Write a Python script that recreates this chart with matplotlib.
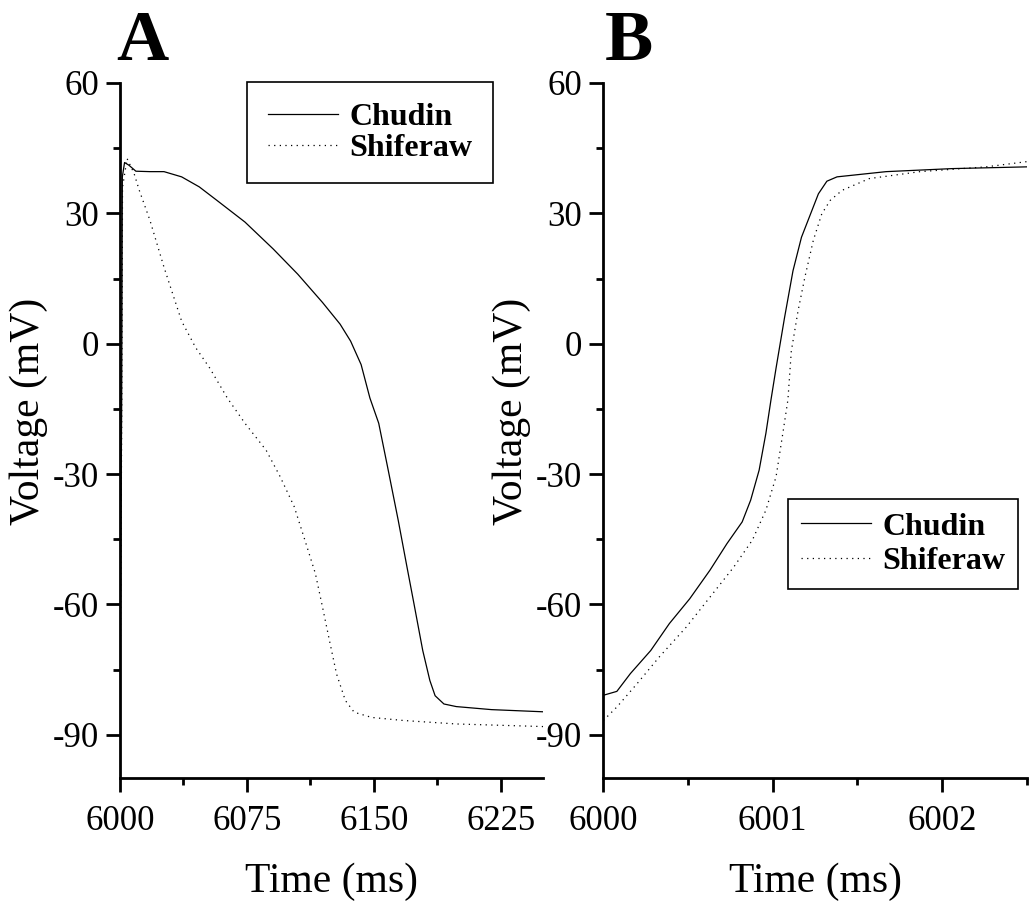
import numpy as np
import matplotlib.pyplot as plt

plt.rcParams['font.family'] = ['Liberation Serif', 'DejaVu Serif']
plt.rcParams['axes.unicode_minus'] = False

# Panel A: full action potential
t_chudin_a = [6000, 6001.0, 6001.4, 6002.7, 6005.2, 6009.4, 6017.7, 6026, 6036.4, 6046.8,
              6057.2, 6073.8, 6090.5, 6105, 6119.6, 6130, 6136.2, 6142.4, 6147.6, 6152.8,
              6158, 6164.3, 6169.5, 6173.6, 6178.8, 6183, 6186.1, 6191.3, 6198.6, 6219.4, 6250]
v_chudin_a = [-81, -13, 38.4, 41.7, 41.1, 39.7, 39.6, 39.6, 38.4, 36.1,
              33.0, 28.0, 21.8, 16.0, 9.5, 4.5, 0.6, -4.8, -12.5, -18.3,
              -28.3, -40.6, -51.4, -59.8, -70.6, -77.5, -81.0, -82.9, -83.5, -84.2, -84.7]

t_shif_a = [6000, 6001.1, 6001.5, 6004.2, 6008.3, 6011.4, 6017.7, 6026, 6036.4, 6044.7,
            6053, 6063.4, 6073.8, 6086.3, 6094.6, 6102.9, 6109.2, 6115.4, 6119.6, 6123.7,
            6127.9, 6133.1, 6138.3, 6148.7, 6167.4, 6198.6, 6250]
v_shif_a = [-86.7, -12.9, 36.0, 42.6, 39.2, 35.3, 28.4, 17.6, 5.2, -0.9,
            -5.6, -12.5, -18.3, -24.5, -30.6, -37.5, -45.2, -52.9, -60.6, -68.3,
            -76.0, -82.1, -84.8, -86.0, -86.7, -87.5, -88.1]

# Panel B: upstroke detail
t_chudin_b = [6000, 6000.08, 6000.16, 6000.28, 6000.39, 6000.51, 6000.63, 6000.73, 6000.82,
              6000.87, 6000.92, 6000.96, 6000.99, 6001.02, 6001.07, 6001.12, 6001.17,
              6001.27, 6001.32, 6001.38, 6001.67, 6002.06, 6002.5]
v_chudin_b = [-80.9, -80.0, -75.9, -70.6, -64.4, -58.7, -52.1, -46.0, -41.0,
              -36.0, -29.1, -20.6, -12.9, -5.6, 6.0, 16.8, 24.5,
              34.5, 37.4, 38.4, 39.6, 40.3, 40.7]

t_shif_b = [6000, 6000.08, 6000.2, 6000.33, 6000.49, 6000.63, 6000.77, 6000.88, 6000.96,
            6001.02, 6001.06, 6001.09, 6001.11, 6001.15, 6001.19, 6001.24, 6001.29,
            6001.34, 6001.41, 6001.57, 6001.87, 6002.26, 6002.5]
v_shif_b = [-86.7, -83.6, -78.2, -72.1, -65.2, -58.3, -51.4, -45.2, -38.3,
            -30.6, -20.6, -12.9, -1.7, 7.6, 15.3, 23.8, 29.9,
            33.0, 35.3, 38.0, 39.6, 40.7, 41.9]

fig = plt.figure(figsize=(10.29, 9.09), dpi=100)
ax_a = fig.add_axes([0.1166, 0.1438, 0.4114, 0.7649])
ax_b = fig.add_axes([0.5863, 0.1438, 0.4115, 0.7649])

dots = (0, (1, 3.5))


def style_axis(ax, xticks, xminor, xlim):
    for side in ['top', 'right']:
        ax.spines[side].set_visible(False)
    for side in ['left', 'bottom']:
        ax.spines[side].set_linewidth(2.0)
    ax.set_xlim(*xlim)
    ax.set_ylim(-100, 60)
    ax.set_xticks(xticks)
    ax.set_xticks(xminor, minor=True)
    ax.set_yticks([-90, -60, -30, 0, 30, 60])
    ax.set_yticks([-75, -45, -15, 15, 45], minor=True)
    ax.tick_params(which='major', direction='out', length=10, width=2.0, labelsize=25)
    ax.tick_params(axis='x', which='major', pad=9)
    ax.tick_params(axis='y', which='major', pad=5)
    ax.tick_params(which='minor', direction='out', length=5, width=2.0)
    ax.set_xlabel('Time (ms)', fontsize=30, labelpad=18)
    ax.set_ylabel('Voltage (mV)', fontsize=30)
    ax.yaxis.set_label_coords(-0.17, 0.528)


ax_a.plot(t_chudin_a, v_chudin_a, color='black', lw=0.9, label='Chudin')
ax_a.plot(t_shif_a, v_shif_a, color='black', lw=0.9, linestyle=dots, label='Shiferaw')
style_axis(ax_a, [6000, 6075, 6150, 6225], [6037.5, 6112.5, 6187.5], (6000, 6250))

ax_b.plot(t_chudin_b, v_chudin_b, color='black', lw=0.9, label='Chudin')
ax_b.plot(t_shif_b, v_shif_b, color='black', lw=0.9, linestyle=dots, label='Shiferaw')
style_axis(ax_b, [6000, 6001, 6002], [6000.5, 6001.5, 6002.5], (6000, 6002.5))

leg_kw = dict(prop={'weight': 'bold', 'size': 23}, fancybox=False, framealpha=1,
              edgecolor='black', handlelength=2.2, handletextpad=0.35,
              labelspacing=0.05, borderaxespad=0)
leg_a = ax_a.legend(loc='upper right', bbox_to_anchor=(0.882, 1.002), borderpad=0.65, **leg_kw)
leg_b = ax_b.legend(loc='upper right', bbox_to_anchor=(0.9795, 0.401), borderpad=0.4,
                    **{**leg_kw, 'labelspacing': 0.15})
for leg in (leg_a, leg_b):
    leg.get_frame().set_linewidth(1.2)

fig.text(0.113, 0.934, 'A', fontsize=52, fontweight='bold')
fig.text(0.588, 0.934, 'B', fontsize=52, fontweight='bold')

fig.savefig('out.png', dpi=100)
